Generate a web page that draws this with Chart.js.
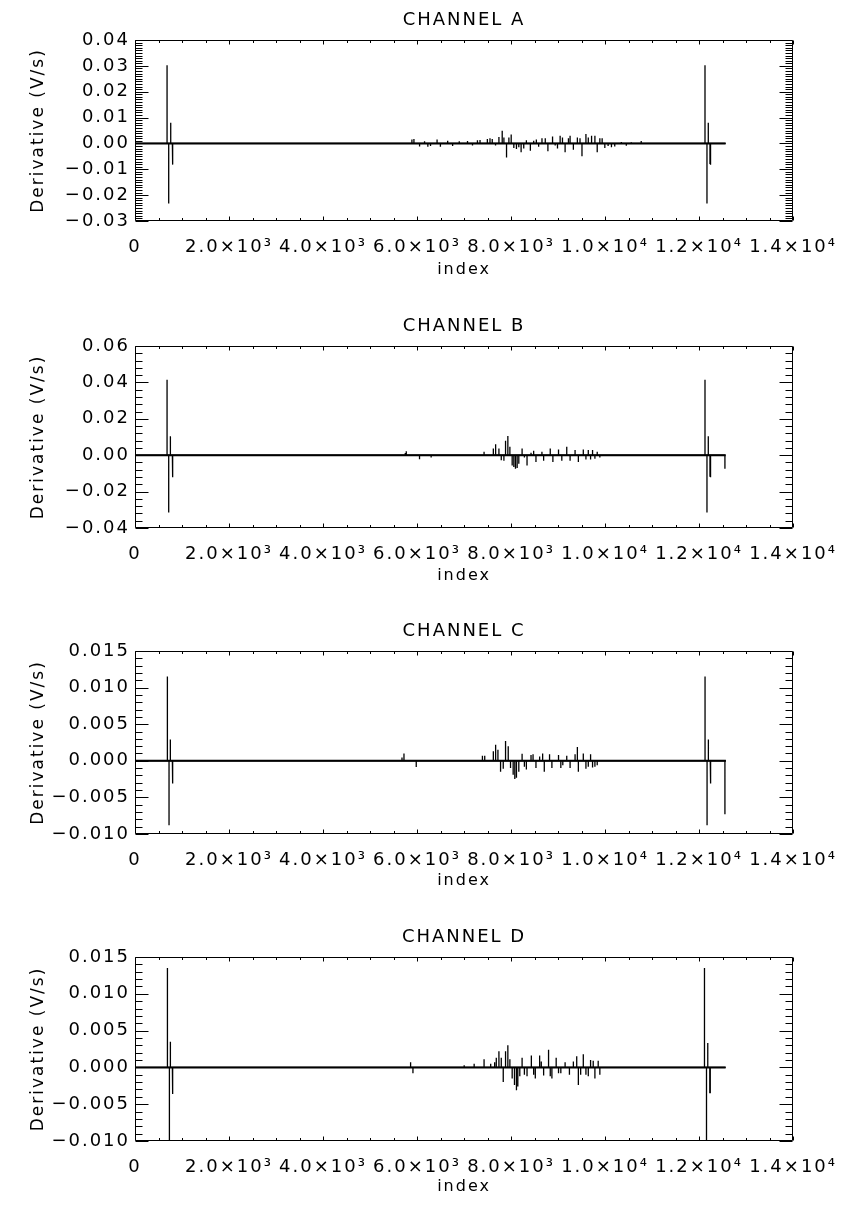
<!DOCTYPE html>
<html>
<head>
<meta charset="utf-8">
<title>Derivative channels</title>
<script src="https://cdn.jsdelivr.net/npm/chart.js@4.4.0/dist/chart.umd.min.js"></script>
<style>
  html, body { margin: 0; padding: 0; background: #fff; }
  #page { position: relative; width: 846px; height: 1207px; overflow: hidden; }
  .panel { position: absolute; left: 0; width: 846px; height: 290px; }
</style>
</head>
<body>
<div id="page">
  <div class="panel" style="top:0px"><canvas id="chA" width="846" height="290"></canvas></div>
  <div class="panel" style="top:306px"><canvas id="chB" width="846" height="290"></canvas></div>
  <div class="panel" style="top:611px"><canvas id="chC" width="846" height="290"></canvas></div>
  <div class="panel" style="top:917px"><canvas id="chD" width="846" height="290"></canvas></div>
</div>
<script>
// x axis (shared by all four panels)
const xTicks = [0, 2000, 4000, 6000, 8000, 10000, 12000, 14000];
const xTickLabels = ['0', '2.0×10³', '4.0×10³', '6.0×10³', '8.0×10³', '1.0×10⁴', '1.2×10⁴', '1.4×10⁴'];

// y ticks per panel
const yTicksA = [-0.03, -0.02, -0.01, 0, 0.01, 0.02, 0.03, 0.04];
const yLabelsA = ['−0.03', '−0.02', '−0.01', '0.00', '0.01', '0.02', '0.03', '0.04'];
const yTicksB = [-0.04, -0.02, 0, 0.02, 0.04, 0.06];
const yLabelsB = ['−0.04', '−0.02', '0.00', '0.02', '0.04', '0.06'];
const yTicksCD = [-0.010, -0.005, 0, 0.005, 0.010, 0.015];
const yLabelsCD = ['−0.010', '−0.005', '0.000', '0.005', '0.010', '0.015'];

// CHANNEL A: sample index / derivative value of each excursion from zero
const idxA = [682, 717, 760, 795, 805,
  5891, 5934, 6054, 6160, 6230, 6287, 6426, 6497, 6652, 6757, 6898, 7074, 7180, 7285, 7340,
  7496, 7552, 7600, 7670, 7742, 7812, 7848, 7904, 7954, 8003, 8059, 8115, 8165, 8214, 8270,
  8326, 8411, 8482, 8538, 8587, 8658, 8728, 8784, 8883, 8939, 8988, 9044, 9094, 9150, 9221,
  9256, 9326, 9411, 9467, 9509, 9593, 9643, 9713, 9784, 9833, 9889, 9938, 9995, 10065, 10136,
  10206, 10347, 10452, 10558, 10769,
  12126, 12168, 12196, 12232, 12244];
const valA = [0.0302, -0.0232, 0.0080, -0.0080, -0.0082,
  0.0015, 0.0017, -0.0012, 0.0008, -0.0013, -0.0010, 0.0015, -0.0013, 0.0010, -0.0010, 0.0008, 0.0009, -0.0008, 0.0012, 0.0013,
  0.0017, 0.0020, 0.0017, -0.0008, 0.0025, 0.0049, 0.0023, -0.0054, 0.0023, 0.0035, -0.0018, -0.0022, -0.0015, -0.0034, -0.0020,
  0.0012, -0.0028, 0.0010, 0.0015, -0.0013, 0.0020, 0.0020, -0.0030, 0.0027, -0.0008, -0.0020, 0.0030, 0.0023, -0.0034, 0.0020,
  0.0030, -0.0024, 0.0023, 0.0020, -0.0050, 0.0036, 0.0023, 0.0030, 0.0030, -0.0034, 0.0020, 0.0020, -0.0018, -0.0010, -0.0015,
  -0.0012, 0.0006, -0.0009, 0.0005, 0.0009,
  0.0302, -0.0232, 0.0080, -0.0080, -0.0082];
const endA = 12565;

// CHANNEL B
const idxB = [682, 717, 753, 795, 805,
  5750, 5771, 6053, 6300, 7426, 7623, 7672, 7742, 7792, 7848, 7883, 7932, 7975, 8024, 8059,
  8094, 8130, 8165, 8235, 8284, 8340, 8425, 8481, 8530, 8657, 8693, 8834, 8890, 9010, 9080,
  9185, 9256, 9362, 9432, 9537, 9593, 9643, 9692, 9734, 9784, 9833, 9889,
  12126, 12168, 12196, 12232, 12244, 12550];
const valB = [0.0415, -0.0315, 0.0104, -0.0118, -0.0121,
  0.0012, 0.0022, -0.0022, -0.0013, 0.0019, 0.0037, 0.0060, 0.0037, -0.0028, -0.0030, 0.0080, 0.0106, 0.0047, -0.0056, -0.0065,
  -0.0075, -0.0070, -0.0047, 0.0037, -0.0013, -0.0056, 0.0013, 0.0024, -0.0037, 0.0019, -0.0030, 0.0037, -0.0037, 0.0032, -0.0030,
  0.0047, -0.0030, 0.0028, -0.0037, 0.0032, -0.0024, 0.0028, -0.0024, 0.0028, -0.0019, 0.0019, -0.0013,
  0.0415, -0.0315, 0.0104, -0.0118, -0.0121, -0.0075];
const endB = 12565;

// CHANNEL C
const idxC = [689, 724, 752, 795, 805,
  5680, 5722, 5983, 7391, 7440, 7623, 7672, 7721, 7777, 7834, 7883, 7940, 7989, 8045, 8080,
  8115, 8165, 8235, 8284, 8326, 8425, 8468, 8530, 8608, 8672, 8707, 8819, 8869, 9010, 9059,
  9101, 9185, 9256, 9362, 9411, 9432, 9537, 9593, 9643, 9692, 9734, 9784, 9833,
  12127, 12170, 12198, 12238, 12250, 12550];
const valC = [0.0115, -0.0088, 0.0029, -0.0030, -0.0031,
  0.00045, 0.0010, -0.00086, 0.0007, 0.0007, 0.0013, 0.0022, 0.0015, -0.0015, -0.0011, 0.0027, 0.0020, -0.0010, -0.0019, -0.0025,
  -0.0023, -0.0015, 0.00095, -0.0008, -0.0012, 0.0008, 0.0009, -0.0010, 0.0006, 0.0010, -0.0015, 0.0009, -0.0010, 0.0008, -0.0010,
  -0.0006, 0.0007, -0.0010, 0.0009, 0.0019, -0.0015, 0.0010, -0.0011, -0.0008, 0.0009, -0.0009, -0.0008, -0.0006,
  0.0115, -0.0088, 0.0029, -0.0030, -0.0031, -0.0073];
const endC = 12570;

// CHANNEL D
const idxD = [690, 732, 753, 795, 805,
  5863, 5913, 7003, 7215, 7426, 7567, 7651, 7686, 7742, 7792, 7834, 7883, 7932, 7975, 8024,
  8073, 8115, 8144, 8186, 8235, 8284, 8340, 8432, 8481, 8516, 8608, 8643, 8693, 8798, 8834,
  8869, 8960, 9010, 9059, 9150, 9242, 9326, 9397, 9432, 9481, 9537, 9593, 9643, 9692, 9748,
  9784, 9854, 9889,
  12115, 12158, 12185, 12228, 12238];
const valD = [0.0135, -0.0110, 0.0035, -0.0035, -0.0036,
  0.0007, -0.0008, 0.0003, 0.0005, 0.0011, 0.0005, 0.0007, 0.0013, 0.0022, 0.0013, -0.0020, 0.0022, 0.0030, 0.0011, -0.0015,
  -0.0024, -0.0031, -0.0026, -0.0012, 0.0013, -0.0010, -0.0012, 0.0016, -0.0010, -0.0015, 0.0016, 0.0008, -0.0011, 0.0024, -0.0012,
  -0.0015, 0.0013, -0.0008, -0.0008, 0.0007, -0.0010, 0.0008, 0.0015, -0.0024, -0.0010, 0.0018, -0.0010, -0.0012, 0.0010, 0.0009,
  -0.0015, 0.0009, -0.0010,
  0.0135, -0.0110, 0.0033, -0.0035, -0.0035];
const endD = 12565;

const FONT = 'DejaVu Sans, Verdana, sans-serif';

// Turn excursion lists into a line that returns to zero after every sample
function buildSeries(idx, val, end) {
    const pts = [{ x: 0, y: 0 }];
    idx.forEach((x, i) => {
        pts.push({ x: x, y: 0 }, { x: x, y: val[i] }, { x: x, y: 0 });
    });
    pts.push({ x: end, y: 0 });
    return pts;
}

// wide, airy lettering like the IDL vector font
const wideText = {
    id: 'wideText',
    beforeDraw(chart) {
        chart.ctx.letterSpacing = '2px';
    }
};

// IDL-style frame: closed box with inward ticks on all four sides
const idlAxes = {
    id: 'idlAxes',
    afterDraw(chart, args, opts) {
        const { ctx, chartArea: a, scales: { x, y } } = chart;
        const L = Math.round(a.left) + 0.5, R = Math.round(a.right) - 0.5;
        const T = Math.round(a.top) + 0.5, B = Math.round(a.bottom) - 0.5;
        ctx.save();
        ctx.strokeStyle = '#000';
        ctx.lineWidth = 1;
        ctx.beginPath();
        ctx.rect(L, T, R - L, B - T);

        // x: major every 2000, minor every 500
        for (let v = 0; v <= 14000; v += 500) {
            const px = Math.round(x.getPixelForValue(v)) + 0.5;
            const len = v % 2000 === 0 ? 4 : 2.5;
            ctx.moveTo(px, B); ctx.lineTo(px, B - len);
            ctx.moveTo(px, T); ctx.lineTo(px, T + len);
        }

        // y: minor step from panel options
        const n = Math.round((y.max - y.min) / opts.minorStep);
        for (let i = 0; i <= n; i++) {
            const v = y.min + i * opts.minorStep;
            const major = opts.majors.some(m => Math.abs(m - v) < opts.minorStep / 10);
            const py = Math.round(y.getPixelForValue(v)) + 0.5;
            const len = major ? 13 : 7;
            ctx.moveTo(L, py); ctx.lineTo(L + len, py);
            ctx.moveTo(R, py); ctx.lineTo(R - len, py);
        }
        ctx.stroke();
        ctx.restore();
    }
};

function makeChannel(id, title, idx, val, end, yMin, yMax, yTicks, yLabels, minorStep, axisHeight) {
    const ctx = document.getElementById(id).getContext('2d');
    return new Chart(ctx, {
        type: 'line',
        data: {
            datasets: [{
                data: buildSeries(idx, val, end),
                borderColor: '#000',
                borderWidth: 1.3,
                pointRadius: 0,
                tension: 0,
                fill: false
            }, {
                // noisy zero level reads as a heavier trace
                data: [{ x: 0, y: 0 }, { x: end, y: 0 }],
                borderColor: '#000',
                borderWidth: 2,
                pointRadius: 0,
                fill: false
            }]
        },
        options: {
            responsive: false,
            animation: false,
            devicePixelRatio: 1,
            layout: { padding: { left: 0, right: 48, top: 0, bottom: 0 } },
            plugins: {
                legend: { display: false },
                tooltip: { enabled: false },
                title: {
                    display: true,
                    text: title,
                    fullSize: false,
                    color: '#000',
                    font: { family: FONT, size: 18, weight: 'normal' },
                    padding: { top: 9.2, bottom: 9.2 }
                },
                idlAxes: { minorStep: minorStep, majors: yTicks }
            },
            scales: {
                x: {
                    type: 'linear',
                    min: 0,
                    max: 14000,
                    grid: { display: false, drawTicks: false },
                    border: { display: false },
                    afterBuildTicks: s => { s.ticks = xTicks.map(v => ({ value: v })); },
                    afterFit: s => { s.height = axisHeight; },
                    ticks: {
                        autoSkip: false,
                        maxRotation: 0,
                        minRotation: 0,
                        padding: 16,
                        color: '#000',
                        font: { family: FONT, size: 18 },
                        callback: (v, i) => xTickLabels[i]
                    },
                    title: {
                        display: true,
                        text: 'index',
                        color: '#000',
                        font: { family: FONT, size: 16 },
                        padding: { top: 0, bottom: 11 }
                    }
                },
                y: {
                    type: 'linear',
                    min: yMin,
                    max: yMax,
                    grid: { display: false, drawTicks: false },
                    border: { display: false },
                    afterBuildTicks: s => { s.ticks = yTicks.map(v => ({ value: v })); },
                    afterFit: s => { s.width = 135; },
                    ticks: {
                        padding: 5,
                        color: '#000',
                        font: { family: FONT, size: 18 },
                        callback: (v, i) => yLabels[i]
                    },
                    title: {
                        display: true,
                        text: 'Derivative (V/s)',
                        color: '#000',
                        font: { family: FONT, size: 17 },
                        padding: { top: 28, bottom: 0 }
                    }
                }
            }
        },
        plugins: [wideText, idlAxes]
    });
}

makeChannel('chA', 'CHANNEL A', idxA, valA, endA, -0.03, 0.04, yTicksA, yLabelsA, 0.001, 69);
makeChannel('chB', 'CHANNEL B', idxB, valB, endB, -0.04, 0.06, yTicksB, yLabelsB, 0.004, 68);
makeChannel('chC', 'CHANNEL C', idxC, valC, endC, -0.010, 0.015, yTicksCD, yLabelsCD, 0.001, 67);
makeChannel('chD', 'CHANNEL D', idxD, valD, endD, -0.010, 0.015, yTicksCD, yLabelsCD, 0.001, 66);
</script>
</body>
</html>
